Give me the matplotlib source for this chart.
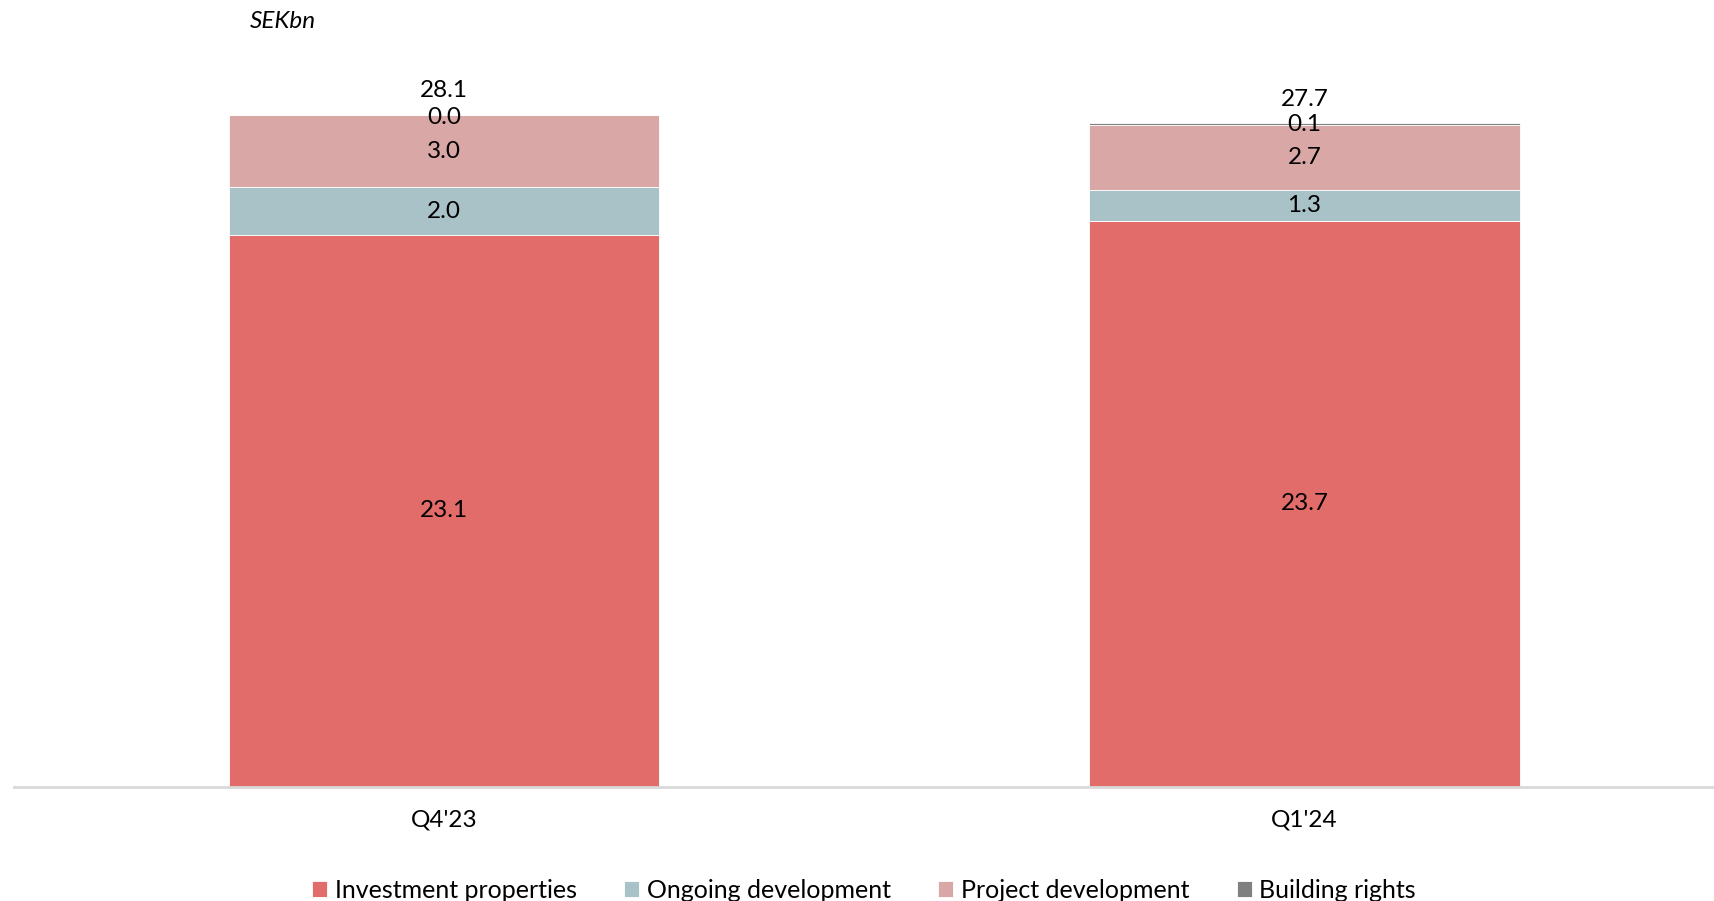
import numpy as np
import matplotlib.pyplot as plt

plt.rcParams['font.family'] = ['Lato', 'DejaVu Sans']

quarters = ["Q4'23", "Q1'24"]
investment = [23.1, 23.7]
ongoing = [2.0, 1.3]
project = [3.0, 2.7]
building = [0.0, 0.1]
totals = [28.1, 27.7]

series = [
    ("Investment properties", investment, "#E16C6A"),
    ("Ongoing development", ongoing, "#A8C2C8"),
    ("Project development", project, "#D9A7A6"),
    ("Building rights", building, "#808080"),
]

fs = 17.5

fig = plt.figure(figsize=(17.14, 9.01), dpi=100)
ax = fig.add_axes([0.0082, 0.1265, 0.9918, 0.7958])

x = np.arange(len(quarters))
bottom = np.zeros(len(quarters))
for name, vals, color in series:
    vals = np.array(vals)
    ax.bar(x, vals, width=0.5, bottom=bottom, color=color, label=name,
           edgecolor="white", linewidth=0.6)
    for i in range(len(x)):
        if name == "Building rights":
            # small segment: label sits on the bar top
            ax.text(x[i], bottom[i] + vals[i] - 0.1, f"{vals[i]:.1f}",
                    ha="center", va="center", fontsize=fs)
        else:
            ax.text(x[i], bottom[i] + vals[i] / 2, f"{vals[i]:.1f}",
                    ha="center", va="center", fontsize=fs)
    bottom += vals

for i in range(len(x)):
    ax.text(x[i], totals[i] + 1.05, f"{totals[i]:.1f}",
            ha="center", va="center", fontsize=fs)

ax.set_xlim(-0.5, 1.476)
ax.set_ylim(0, 30)
ax.set_yticks([])
ax.set_xticks(x)
ax.set_xticklabels(quarters, fontsize=fs)
ax.tick_params(axis="x", length=0, pad=16)
for s in ["top", "right", "left"]:
    ax.spines[s].set_visible(False)
ax.spines["bottom"].set_color("#D9D9D9")
ax.spines["bottom"].set_linewidth(2)

fig.text(0.1455, 0.976, "SEKbn", fontsize=fs, style="italic", ha="left", va="center")

fig.legend(loc="center", bbox_to_anchor=(0.504, 0.012), ncol=4, frameon=False,
           fontsize=18, handlelength=0.6, handleheight=0.6, handletextpad=0.3,
           columnspacing=1.9)

fig.savefig("out.png", dpi=100)
